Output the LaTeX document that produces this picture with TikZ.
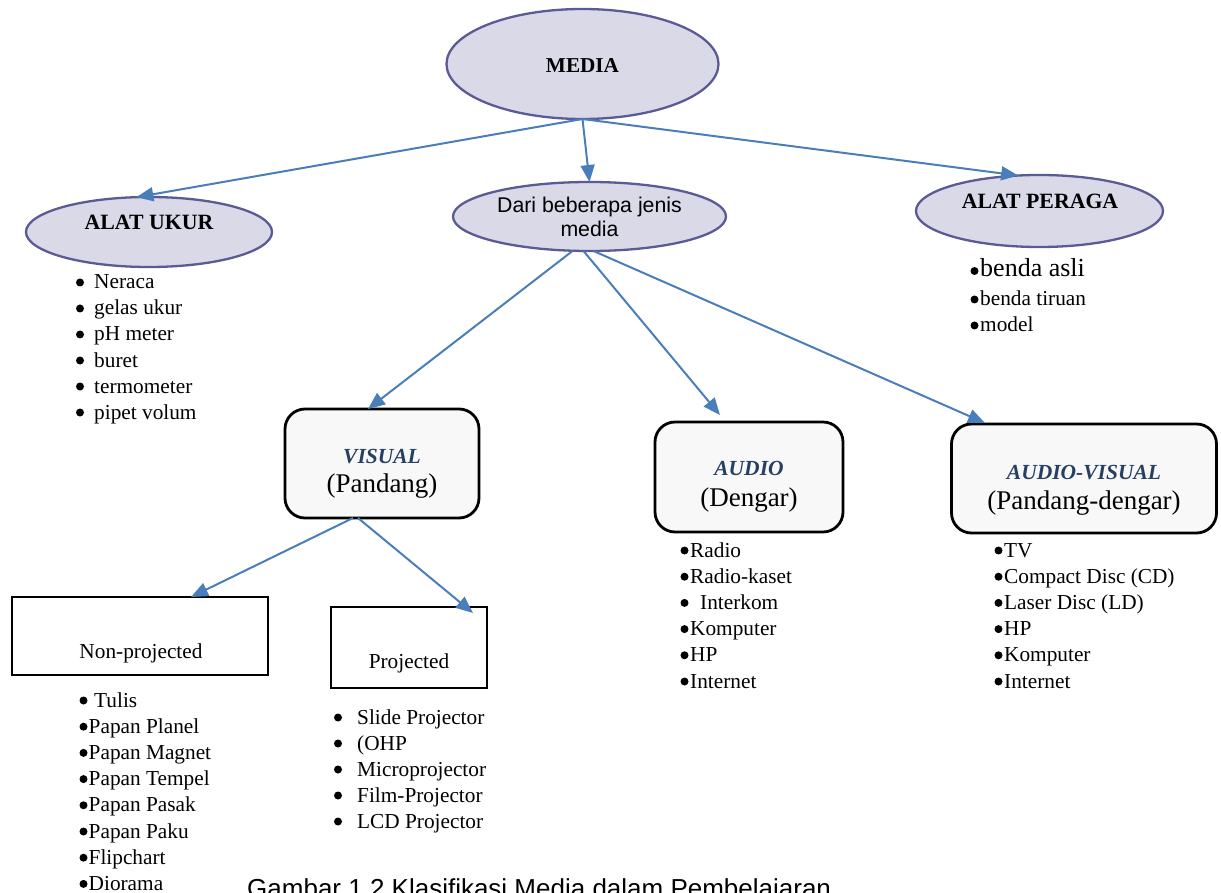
\documentclass[tikz,border=0pt]{standalone}
\usepackage{fontspec}
\setmainfont{Liberation Serif}
\newfontfamily\arialfont{Liberation Sans}
\usetikzlibrary{shapes.geometric,arrows.meta}

\definecolor{ellfill}{RGB}{217,217,231}
\definecolor{ellline}{RGB}{90,90,150}
\definecolor{arrowblue}{RGB}{74,126,187}
\definecolor{boxfill}{RGB}{248,248,248}
\definecolor{headblue}{RGB}{38,64,98}

\begin{document}
\begin{tikzpicture}[x=1pt,y=-1pt,
  oval/.style={ellipse, draw=ellline, fill=ellfill, line width=2.3pt, inner sep=0pt, outer sep=0pt},
  roundbox/.style={rectangle, rounded corners=20pt, draw=black, fill=boxfill, line width=2.8pt, inner sep=0pt, outer sep=0pt},
  plainbox/.style={rectangle, draw=black, line width=2pt, inner sep=0pt, outer sep=0pt},
  link/.style={draw=arrowblue, line width=2pt, -{Triangle[length=17pt,width=14pt]}},
  txt/.style={inner sep=0pt, anchor=base},
  ovaltitle/.style={txt, font=\bfseries\fontsize{21.8}{25}\selectfont},
  boxtitle/.style={txt, text=headblue, font=\bfseries\itshape\fontsize{21.5}{25}\selectfont},
  boxsub/.style={txt, font=\fontsize{27}{31}\selectfont},
  listtext/.style={inner sep=0pt, anchor=base west, font=\fontsize{21.3}{25}\selectfont},
  bdot/.style={circle, fill=black, inner sep=0pt, minimum size=8pt},
]
\useasboundingbox (0,0) rectangle (1221,893);

% ---- ovals ----
\node[oval, minimum width=272pt, minimum height=110pt] (media) at (582.5,64) {};
\node[oval, minimum width=246pt, minimum height=70pt] (alatukur) at (149,232) {};
\node[oval, minimum width=273pt, minimum height=69pt] (dari) at (589.5,216.5) {};
\node[oval, minimum width=247pt, minimum height=72pt] (peraga) at (1039.5,211) {};

\node[txt, font=\bfseries\fontsize{21.2}{25}\selectfont] (medialbl) at (582.5,73) {MEDIA};
\node[ovaltitle] (ukurlbl) at (149,230) {ALAT UKUR};
\node[ovaltitle] (peragalbl) at (1040,209) {ALAT PERAGA};
\node[txt, font=\arialfont\fontsize{21.3}{25}\selectfont] (darilbla) at (589.5,213) {Dari beberapa jenis};
\node[txt, font=\arialfont\fontsize{21.3}{25}\selectfont] (darilblb) at (589.5,237) {media};

% ---- rounded category boxes ----
\node[roundbox, minimum width=194pt, minimum height=109pt] (visual) at (382,463.5) {};
\node[roundbox, minimum width=188pt, minimum height=110pt] (audio) at (749,477) {};
\node[roundbox, minimum width=265pt, minimum height=109pt] (audiovis) at (1084,478.5) {};

\node[boxtitle] (visuala) at (382,463) {VISUAL};
\node[boxsub] (visualb) at (382,492) {(Pandang)};
\node[boxtitle] (audioa) at (749,475) {AUDIO};
\node[boxsub] (audiob) at (749,506) {(Dengar)};
\node[boxtitle] (audiovisa) at (1084,479) {AUDIO-VISUAL};
\node[boxsub] (audiovisb) at (1084,509) {(Pandang-dengar)};

% ---- plain boxes ----
\node[plainbox, minimum width=256pt, minimum height=78pt] (nonproj) at (140,636) {};
\node[plainbox, minimum width=156pt, minimum height=81pt] (proj) at (409,647.5) {};
\node[txt, font=\fontsize{21.3}{25}\selectfont] (nonprojlbl) at (141,658) {Non-projected};
\node[txt, font=\fontsize{21.3}{25}\selectfont] (projlbl) at (409,668) {Projected};

% ---- connectors ----
\draw[link] (media.south) -- (alatukur.110);
\draw[link] (media.south) -- (dari.north);
\draw[link] (media.south) -- (peraga.121);
\draw[link] ([xshift=-17pt]dari.south) -- ([xshift=-14pt]visual.north);
\draw[link] ([xshift=-6pt]dari.south) -- ([xshift=-29pt,yshift=7pt]audio.north);
\draw[link] ([xshift=4pt]dari.south) -- ([xshift=-99pt,yshift=1pt]audiovis.north);
\draw[link] ([xshift=-29pt]visual.south) -- ([xshift=51pt]nonproj.north);
\draw[link] ([xshift=-24pt]visual.south) -- ([xshift=64pt,yshift=-6pt]proj.north);

% ---- measuring instruments ----
\foreach \t [count=\k from 0] in {Neraca, gelas ukur, pH meter, buret, termometer, pipet volum} {
  \node[bdot] (ukb\k) at (80,282.5+26*\k) {};
  \node[listtext] (ukt\k) at (94,289+26*\k) {\t};
}

% ---- teaching aids ----
\node[bdot] (pgb0) at (974.5,271) {};
\node[inner sep=0pt, anchor=base west, font=\fontsize{26}{30}\selectfont] (pgt0) at (980,277) {benda asli};
\node[bdot] (pgb1) at (974.5,299.5) {};
\node[listtext] (pgt1) at (980,306) {benda tiruan};
\node[bdot] (pgb2) at (974.5,325.5) {};
\node[listtext] (pgt2) at (980,332) {model};

% ---- audio ----
\foreach \t/\tx [count=\k from 0] in {Radio/690, Radio-kaset/690, Interkom/700, Komputer/690, HP/690, Internet/690} {
  \node[bdot] (audb\k) at (684.5,550.5+26.2*\k) {};
  \node[listtext] (audt\k) at (\tx,557+26.2*\k) {\t};
}

% ---- audio-visual ----
\foreach \t [count=\k from 0] in {TV, {Compact Disc (CD)}, {Laser Disc (LD)}, HP, Komputer, Internet} {
  \node[bdot] (avb\k) at (998.5,550.5+26.2*\k) {};
  \node[listtext] (avt\k) at (1004,557+26.2*\k) {\t};
}

% ---- non-projected ----
\foreach \t/\tx [count=\k from 0] in {Tulis/94, Papan Planel/88.5, Papan Magnet/88.5, Papan Tempel/88.5, Papan Pasak/88.5, Papan Paku/88.5, Flipchart/88.5, Diorama/88.5} {
  \node[bdot] (npb\k) at (83.5,700.5+26.2*\k) {};
  \node[listtext] (npt\k) at (\tx,707+26.2*\k) {\t};
}

% ---- projected ----
\foreach \t [count=\k from 0] in {Slide Projector, {(OHP}, Microprojector, Film-Projector, LCD Projector} {
  \node[bdot] (prb\k) at (338,717.5+26*\k) {};
  \node[listtext] (prt\k) at (357,724+26*\k) {\t};
}

% ---- caption ----
\node[inner sep=0pt, anchor=base west, font=\arialfont\fontsize{26}{30}\selectfont] (caption) at (247,897) {Gambar 1.2 Klasifikasi Media dalam Pembelajaran};
\end{tikzpicture}
\end{document}
